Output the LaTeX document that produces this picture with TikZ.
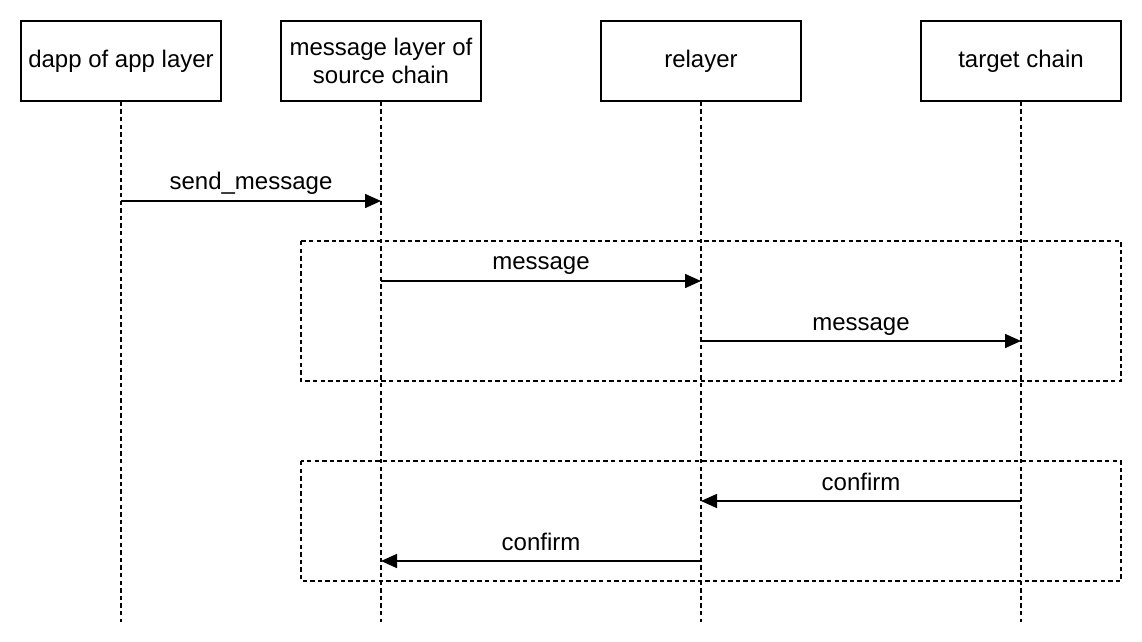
\documentclass[tikz,border=0pt]{standalone}
\usepackage{fontspec}
\setmainfont{Liberation Sans}
\usetikzlibrary{arrows.meta}
\begin{document}
\begin{tikzpicture}[x=0.5pt,y=-0.5pt,
  font=\fontsize{12}{14}\selectfont,
  actor/.style={draw,line width=0.75pt,minimum width=100pt,minimum height=40pt,inner sep=0pt,align=center},
  life/.style={line width=0.75pt,dash pattern=on 2.2pt off 1.6pt},
  msg/.style={line width=0.75pt,-{Triangle[length=8pt,width=7pt]}},
  frag/.style={line width=0.75pt,dash pattern=on 2.2pt off 1.6pt},
  lbl/.style={inner sep=0pt,anchor=base}]
\useasboundingbox (0,0) rectangle (1142,642);
\node[actor] (a) at (121,61) {dapp of app layer};
\node[actor] (b) at (381,61) {message layer of\\source chain};
\node[actor] (c) at (701,61) {relayer};
\node[actor] (d) at (1021,61) {target chain};
\coordinate (ae) at (121,622);
\coordinate (be) at (381,622);
\coordinate (ce) at (701,622);
\coordinate (de) at (1021,622);
\draw[life] (a.south) -- (ae);
\draw[life] (b.south) -- (be);
\draw[life] (c.south) -- (ce);
\draw[life] (d.south) -- (de);
\draw[frag] (301,241) rectangle (1121,381);
\draw[frag] (301,461) rectangle (1121,581);
\coordinate (a1) at (121,201); \coordinate (b1) at (381,201);
\coordinate (b2) at (381,281); \coordinate (c2) at (701,281);
\coordinate (c3) at (701,341); \coordinate (d3) at (1021,341);
\coordinate (d4) at (1021,501); \coordinate (c4) at (701,501);
\coordinate (c5) at (701,561); \coordinate (b5) at (381,561);
\draw[msg] (a1) -- node[lbl,yshift=5.5pt]{send\_message} (b1);
\draw[msg] (b2) -- node[lbl,yshift=5.5pt]{message} (c2);
\draw[msg] (c3) -- node[lbl,yshift=5.5pt]{message} (d3);
\draw[msg] (d4) -- node[lbl,yshift=5.5pt]{confirm} (c4);
\draw[msg] (c5) -- node[lbl,yshift=5.5pt]{confirm} (b5);
\end{tikzpicture}
\end{document}
